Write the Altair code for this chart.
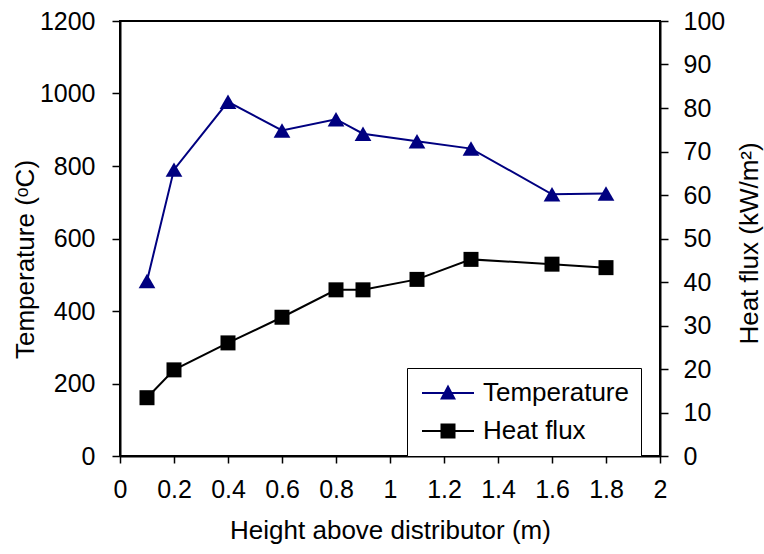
import altair as alt
import pandas as pd

# ---- data ----
heights = [0.1, 0.2, 0.4, 0.6, 0.8, 0.9, 1.1, 1.3, 1.6, 1.8]
temperature = [483, 790, 977, 898, 929, 889, 868, 848, 722, 724]
heat_flux = [13.4, 19.8, 26.0, 31.9, 38.2, 38.2, 40.6, 45.2, 44.1, 43.3]

series_names = ["Temperature", "Heat flux"]
series_colors = ["#000080", "#000000"]

x_ticks = [0, 0.2, 0.4, 0.6, 0.8, 1, 1.2, 1.4, 1.6, 1.8, 2]
temp_ticks = [0, 200, 400, 600, 800, 1000, 1200]
flux_ticks = [0, 10, 20, 30, 40, 50, 60, 70, 80, 90, 100]

FONT = "Liberation Sans"

df_t = pd.DataFrame({"h": heights, "value": temperature, "series": series_names[0]})
df_f = pd.DataFrame({"h": heights, "value": heat_flux, "series": series_names[1]})

# legend glyphs: a short line segment with the marker on it
tri_legend = "M-2.6,-0.1H2.6V0.1H-2.6Z M0,-0.85L0.8,0.65L-0.8,0.65Z"
sq_legend = "M-2.6,-0.1H2.6V0.1H-2.6Z M-0.75,-0.75H0.75V0.75H-0.75Z"

legend = alt.Legend(
    title=None,
    orient="none",
    legendX=287,
    legendY=347,
    labelFont=FONT,
    labelFontSize=26,
    labelColor="black",
    labelLimit=400,
    labelExpr="datum.label + '\u00a0'",
    symbolSize=400,
    symbolStrokeWidth=0,
    symbolOffset=16,
    labelOffset=22,
    padding=12,
    rowPadding=12,
    strokeColor="black",
    fillColor="white",
)

x_enc = alt.X(
    "h:Q",
    scale=alt.Scale(domain=[0, 2], nice=False, zero=False),
    axis=alt.Axis(
        values=x_ticks,
        format="~g",
        tickSize=7,
        labelPadding=14,
        labelFlush=False,
        title="Height above distributor (m)",
        titleBaseline="alphabetic",
        titleY=82,
        titleAnchor="middle",
    ),
)

y_temp = alt.Y(
    "value:Q",
    scale=alt.Scale(domain=[0, 1200], nice=False),
    axis=alt.Axis(
        orient="left",
        values=temp_ticks,
        format="d",
        tickSize=8,
        labelPadding=17,
        labelFlush=False,
        title="Temperature (ᵒC)",
        titleAngle=270,
        titleBaseline="alphabetic",
        titleAlign="center",
        titleX=-87,
        titleY=238,
    ),
)

y_flux = alt.Y(
    "value:Q",
    scale=alt.Scale(domain=[0, 100], nice=False),
    axis=alt.Axis(
        orient="right",
        values=flux_ticks,
        format="d",
        tickSize=8,
        labelPadding=15,
        labelFlush=False,
        title="Heat flux (kW/m²)",
        titleAngle=270,
        titleBaseline="alphabetic",
        titleAlign="center",
        titleX=97,
        titleY=222,
    ),
)

base_t = alt.Chart(df_t).encode(x=x_enc, y=y_temp)
legend_only = (
    alt.Chart(pd.concat([df_t, df_f]))
    .transform_filter("false")
    .mark_point(filled=True, opacity=1)
    .encode(
        x=x_enc,
        y=y_temp,
        color=alt.Color("series:N", scale=alt.Scale(domain=series_names, range=series_colors), legend=legend),
        shape=alt.Shape("series:N", scale=alt.Scale(domain=series_names, range=[tri_legend, sq_legend]), legend=legend),
    )
)
temp_layer = alt.layer(
    base_t.mark_line(strokeWidth=2, color=series_colors[0]),
    base_t.mark_point(shape="triangle-up", filled=True, size=280, opacity=1, color=series_colors[0]),
    legend_only,
)

base_f = alt.Chart(df_f).encode(x=x_enc, y=y_flux)
flux_layer = alt.layer(
    base_f.mark_line(strokeWidth=2, color=series_colors[1]),
    base_f.mark_point(shape="square", filled=True, size=225, opacity=1, color=series_colors[1]),
)

chart = (
    alt.layer(temp_layer, flux_layer)
    .resolve_scale(y="independent")
    .properties(
        width=540,
        height=435,
        autosize=alt.AutoSizeParams(type="none"),
        padding={"left": 120, "top": 21, "right": 104, "bottom": 98},
        background="white",
    )
    .configure_view(stroke="black", strokeWidth=2)
    .configure_axis(
        grid=False,
        domainColor="black",
        domainWidth=2,
        tickColor="black",
        tickWidth=1.5,
        labelFont=FONT,
        labelFontSize=25,
        labelColor="black",
        titleFont=FONT,
        titleFontSize=26,
        titleColor="black",
        titleFontWeight="normal",
    )
)

chart.save("out.html", embed_options={"renderer": "svg", "actions": False})
